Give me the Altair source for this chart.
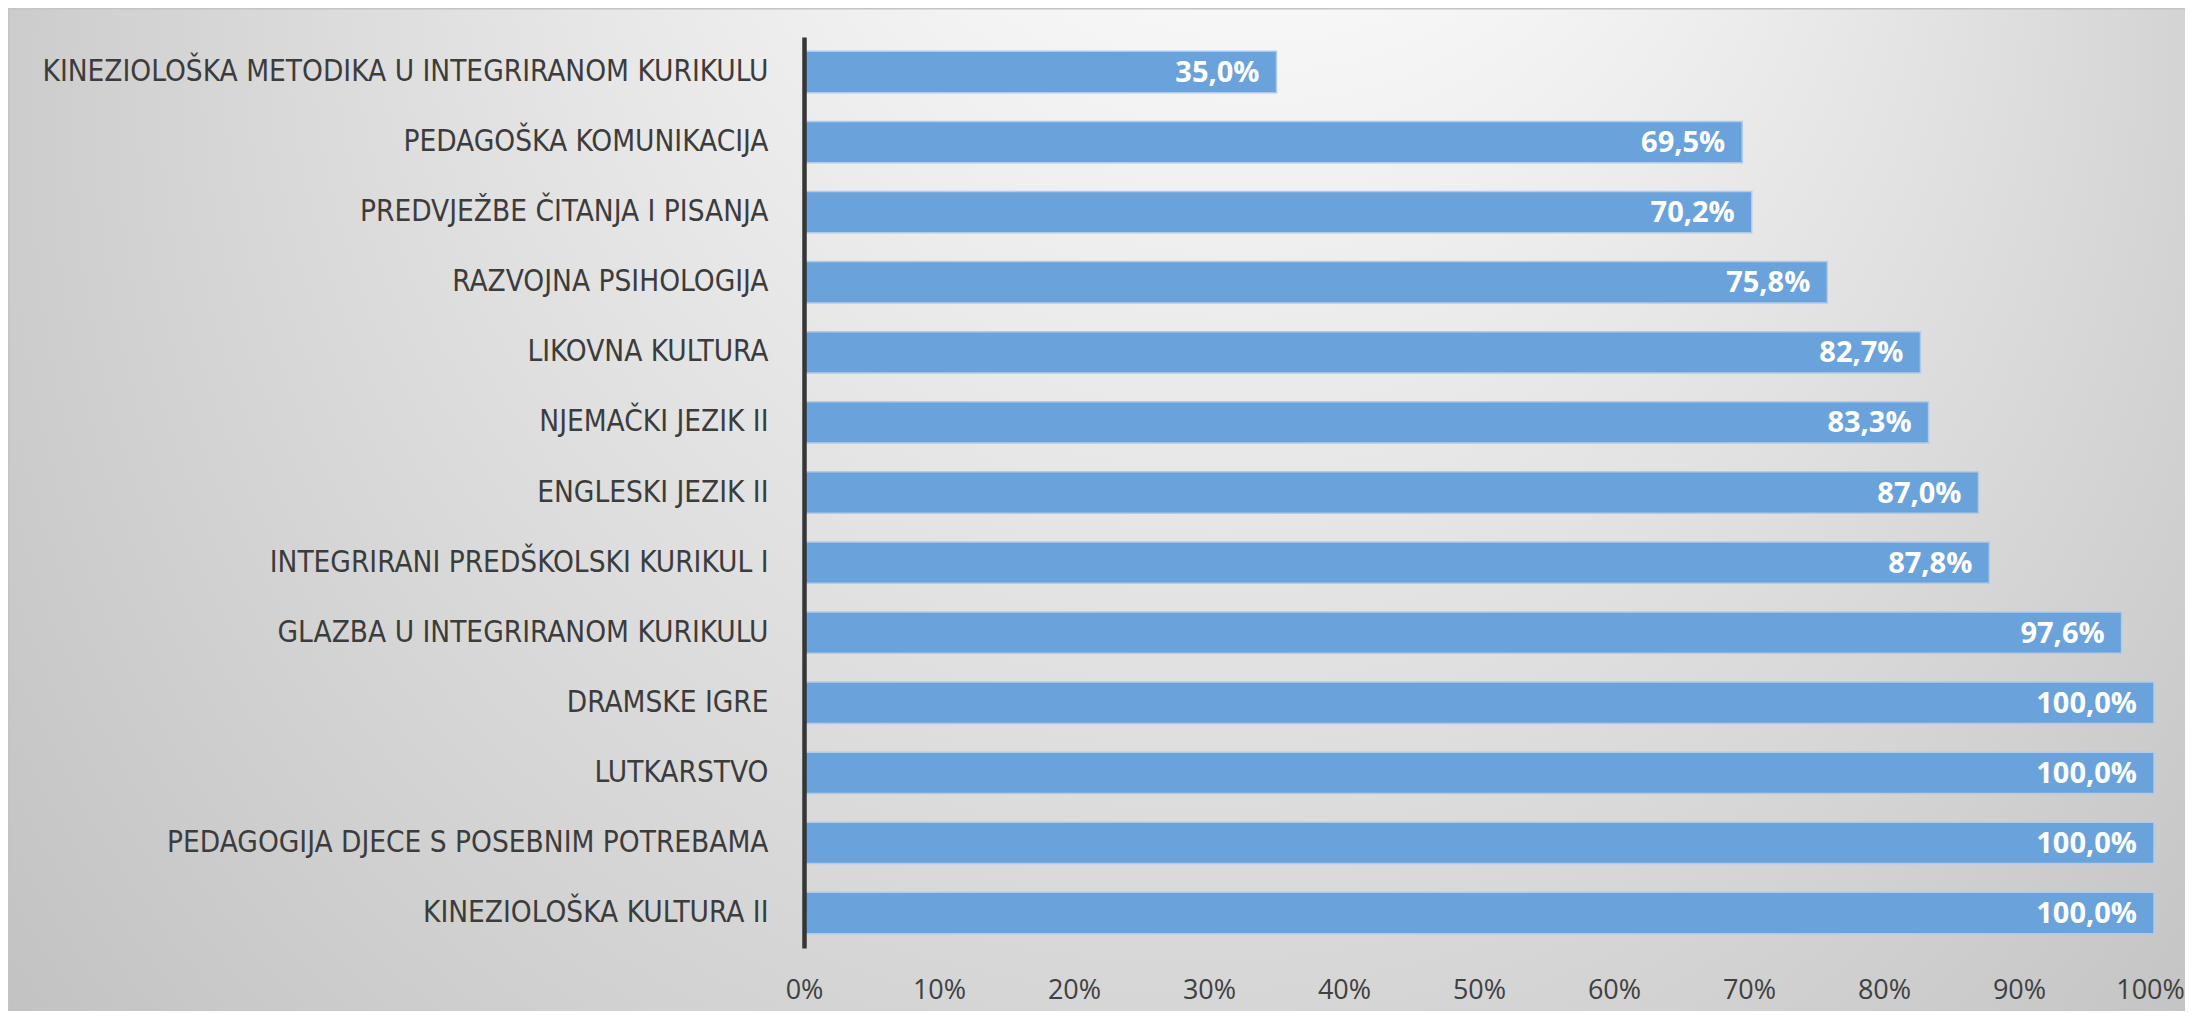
import altair as alt
import pandas as pd

categories = [
    "KINEZIOLOŠKA METODIKA U  INTEGRIRANOM KURIKULU",
    "PEDAGOŠKA KOMUNIKACIJA",
    "PREDVJEŽBE ČITANJA I PISANJA",
    "RAZVOJNA PSIHOLOGIJA",
    "LIKOVNA KULTURA",
    "NJEMAČKI JEZIK  II",
    "ENGLESKI JEZIK  II",
    "INTEGRIRANI PREDŠKOLSKI KURIKUL I",
    "GLAZBA U INTEGRIRANOM KURIKULU",
    "DRAMSKE IGRE",
    "LUTKARSTVO",
    "PEDAGOGIJA DJECE S POSEBNIM POTREBAMA",
    "KINEZIOLOŠKA KULTURA II",
]
values = [35.0, 69.5, 70.2, 75.8, 82.7, 83.3, 87.0, 87.8, 97.6, 100.0, 100.0, 100.0, 100.0]
x_ticks = [0, 10, 20, 30, 40, 50, 60, 70, 80, 90, 100]

df = pd.DataFrame({"cat": categories, "val": values})

W, H = 1350, 911
PAD = {"left": 796, "top": 29, "right": 31, "bottom": 63}

bg = alt.Chart(alt.Data(values=[{"k": 1}])).mark_rect(
    fill={
        "gradient": "radial",
        "x1": 0.6, "y1": 0.0, "r1": 0.0,
        "x2": 0.5, "y2": 0.45, "r2": 0.7,
        "stops": [
            {"offset": 0.0, "color": "#ffffff"},
            {"offset": 0.18, "color": "#fbfbfb"},
            {"offset": 1.0, "color": "#b8b8b8"},
        ],
    },
    stroke="#c4c4c4",
    strokeWidth=3,
).encode(
    x=alt.value(-PAD["left"]),
    x2=alt.value(W + PAD["right"] + 4),
    y=alt.value(-PAD["top"]),
    y2=alt.value(H + PAD["bottom"] + 4),
)

y_enc = alt.Y(
    "cat:N",
    sort=categories,
    scale=alt.Scale(paddingInner=0.41, paddingOuter=0.205),
    axis=alt.Axis(
        title=None,
        ticks=False,
        tickSize=0,
        grid=False,
        domain=True,
        domainColor="#363636",
        domainWidth=4.5,
        labelFont="DejaVu Sans Condensed, Liberation Sans, sans-serif",
        labelFontSize=29.5,
        labelColor="#3c3c3c",
        labelPadding=36,
        labelLimit=0,
        zindex=1,
    ),
)

x_enc = alt.X(
    "val:Q",
    scale=alt.Scale(domain=[0, 100], nice=False),
    axis=alt.Axis(
        title=None,
        values=x_ticks,
        labelExpr="datum.value + '%'",
        domain=False,
        ticks=False,
        tickSize=0,
        grid=False,
        labelFont="Open Sans",
        labelFontSize=27,
        labelColor="#404040",
        labelBaseline="top",
        labelPadding=29,
        labelFlush=False,
        labelOffset={"condition": {"test": "datum.value === 100", "value": -4}, "value": 0},
        zindex=1,
    ),
)

bars = alt.Chart(df).mark_bar(
    color="#6aa3dc",
    stroke="#aecbec",
    strokeWidth=1.5,
).encode(x=x_enc, y=y_enc)

labels = alt.Chart(df).transform_calculate(
    lab="replace(format(datum.val, '.1f'), '.', ',') + '%'"
).mark_text(
    align="right",
    baseline="middle",
    dx=-17,
    dy=1,
    font="Open Sans",
    fontSize=29,
    fontWeight="bold",
    color="white",
).encode(
    x=alt.X("val:Q"),
    y=alt.Y("cat:N", sort=categories),
    text="lab:N",
)

chart = alt.layer(bg, bars, labels).properties(
    width=W,
    height=H,
    autosize=alt.AutoSizeParams(type="none"),
    padding=PAD,
    background="white",
).configure_view(stroke=None)

chart.save("out.html", embed_options={"renderer": "svg", "actions": False})
